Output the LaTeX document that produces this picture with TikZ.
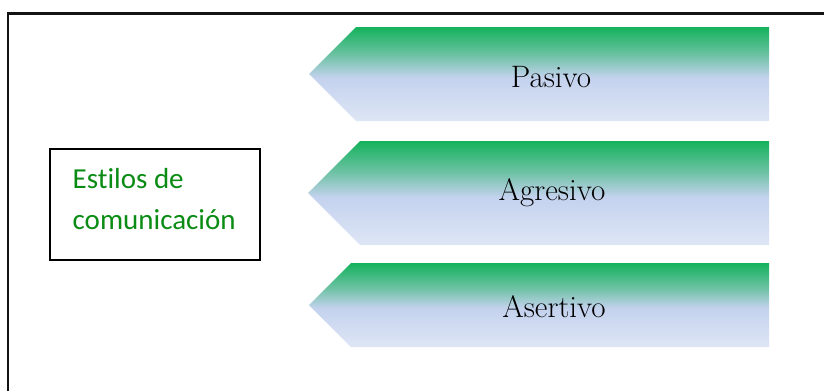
\documentclass[tikz,border=0pt]{standalone}
\usepackage{fontspec}
\newfontfamily\calibrifont[Ligatures={NoCommon}]{Carlito}
\definecolor{chevtop}{RGB}{20,178,92}
\definecolor{chevtmid}{RGB}{110,194,165}
\definecolor{chevmid}{RGB}{196,210,238}
\definecolor{chevbot}{RGB}{222,230,245}
\definecolor{labelgreen}{RGB}{10,140,20}
\definecolor{framegray}{RGB}{20,20,20}
% green on top fading to pale blue; the path box spans 25bp..75bp
\pgfdeclareverticalshading{chevshade}{100bp}{color(0bp)=(chevbot); color(25bp)=(chevbot); color(48bp)=(chevmid); color(60bp)=(chevtmid); color(75bp)=(chevtop); color(100bp)=(chevtop)}
\tikzset{
  chevron/.style={shading=chevshade, draw=none},
  chevlabel/.style={anchor=base, inner sep=0pt, font=\fontsize{31}{36}\selectfont},
  titlebox/.style={draw=black, line width=1.3pt, fill=white},
  titletext/.style={anchor=north west, inner sep=0pt, align=left, text=labelgreen,
    font=\calibrifont\fontsize{29}{41}\selectfont},
}
\begin{document}
\begin{tikzpicture}[x=1pt,y=-1pt]
\useasboundingbox (0,0) rectangle (824,391);
\fill[white] (0,0) rectangle (824,391);

% outer frame (only the top and left edges fall inside the page)
\draw[framegray, line width=2.2pt] (8,391) -- (8,13.5) -- (824,13.5);

% title box
\draw[titlebox] (50,149) rectangle (260,260);
\node[titletext] (title) at (72.5,168.5) {Estilos de\\comunicación};

% pointed bands, 45 degree left tips
\shade[chevron] (309,74) -- (356,27) -- (769,27) -- (769,121) -- (356,121) -- cycle;
\shade[chevron] (308,193) -- (360,141) -- (769,141) -- (769,245) -- (360,245) -- cycle;
\shade[chevron] (309,305) -- (351,263) -- (769,263) -- (769,347) -- (351,347) -- cycle;

\node[chevlabel] (pasivo) at (551,87) {Pasivo};
\node[chevlabel] (agresivo) at (552,200) {Agresivo};
\node[chevlabel] (asertivo) at (554,317) {Asertivo};
\end{tikzpicture}
\end{document}
